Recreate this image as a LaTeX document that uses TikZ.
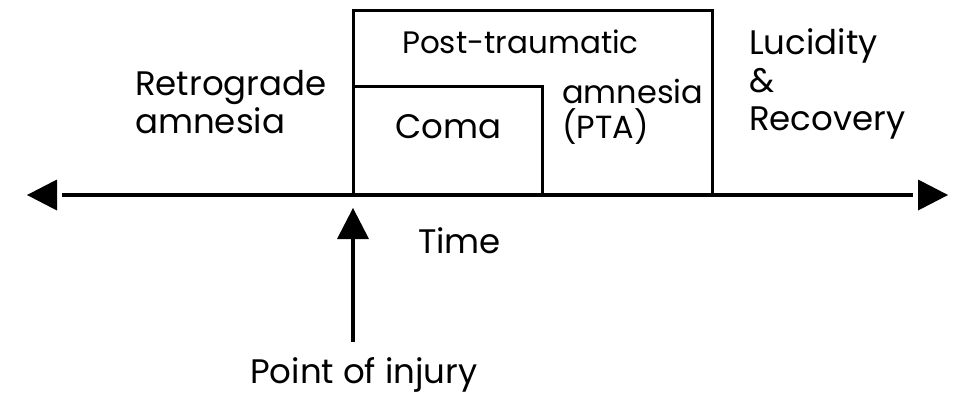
\documentclass[tikz,border=0pt]{standalone}
\usepackage{fontspec}
\setmainfont{Poppins}
\usetikzlibrary{positioning}

\begin{document}
\begin{tikzpicture}[x=1pt,y=1pt]
                    \tikzstyle{every node}+=[inner sep=0pt]
                    \tikzstyle{phasetext}=[anchor=base west,align=left,font=\fontsize{34}{38}\selectfont]
                    \useasboundingbox (0,0) rectangle (958,-394);
                    % time axis
                    \coordinate (axisL) at (62,-195);
                    \coordinate (axisR) at (913,-195);
                    \draw [black,line width=3.3] (axisL) -- (axisR);
                    \fill [black] (27,-195) -- (57,-179.5) -- (57,-210.5) -- cycle;
                    \fill [black] (948,-195) -- (918,-179.5) -- (918,-210.5) -- cycle;
                    % PTA and coma boxes
                    \draw [black,line width=3] (353,-195) |- (712,-10) -- (712,-195);
                    \draw [black,line width=3] (353,-86) -| (542,-195);
                    % labels (base west sits on the last line)
                    \node (retro) [phasetext] at (135,-133) {Retrograde\\amnesia};
                    \node (ptatop) [phasetext,font=\fontsize{31}{35}\selectfont] at (402,-53) {Post-traumatic};
                    \node (ptabot) [phasetext,font=\fontsize{32}{35}\selectfont] at (562,-138) {amnesia\\(PTA)};
                    \node (coma) [phasetext] at (395,-138) {Coma};
                    \node (lucid) [phasetext] at (749,-130) {Lucidity\\\&\\Recovery};
                    \node (time) [phasetext] at (418,-253) {Time};
                    \node (injury) [phasetext] at (250,-383) {Point of injury};
                    % injury arrow
                    \coordinate (injfoot) at (353,-342);
                    \coordinate (injhead) at (353,-239);
                    \draw [black,line width=3.3] (injfoot) -- (injhead);
                    \fill [black] (353,-208) -- (337,-239) -- (369,-239) -- cycle;
\end{tikzpicture}
\end{document}
